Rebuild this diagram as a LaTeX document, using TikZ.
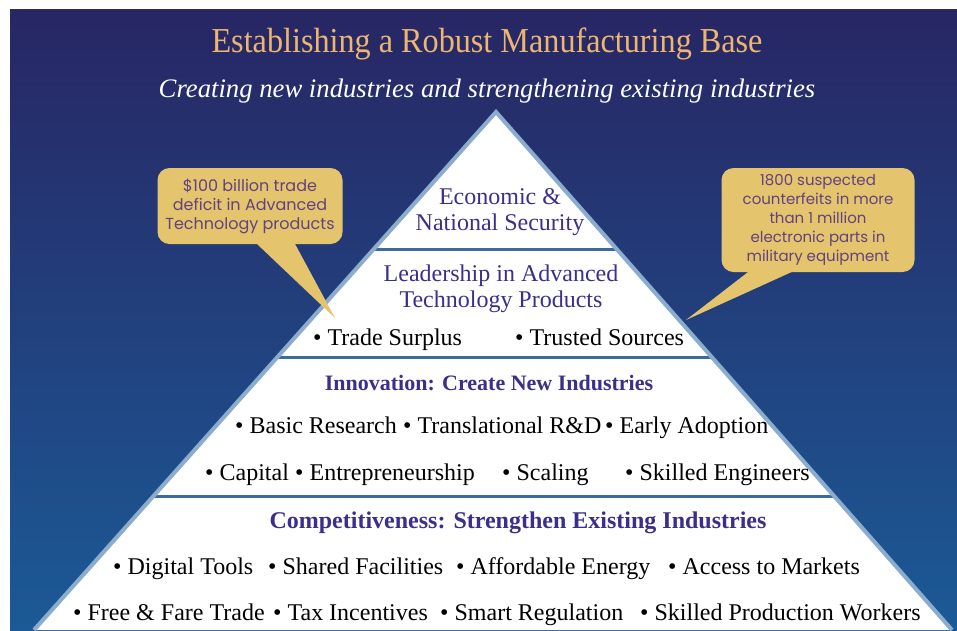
\documentclass[tikz,border=0pt]{standalone}
\usepackage{fontspec}
\setmainfont{Liberation Serif}
\newfontfamily\balloonfont{Poppins}
\usepackage{tikz}
\usetikzlibrary{calc}
\definecolor{navytop}{RGB}{40,38,100}
\definecolor{navymid}{RGB}{37,55,118}
\definecolor{navybot}{RGB}{27,90,150}
\definecolor{titlegold}{RGB}{236,182,112}
\definecolor{tierpurple}{RGB}{58,48,140}
\definecolor{edgeblue}{RGB}{140,172,205}
\definecolor{dividerblue}{RGB}{60,108,158}
\definecolor{balloongold}{RGB}{229,196,110}
\definecolor{balloontext}{RGB}{98,66,126}
\tikzstyle{headline}=[text=titlegold,anchor=base,xscale=0.92,
                      font=\fontsize{35}{38}\selectfont]
\tikzstyle{subline}=[text=white,anchor=base,
                     font=\fontsize{26.7}{30}\selectfont\itshape]
\tikzstyle{tiertext}=[text=tierpurple,align=center,inner sep=0pt,
                      font=\fontsize{24}{26}\selectfont]
\tikzstyle{tierhead}=[text=tierpurple,anchor=base,inner sep=0pt,
                      font=\fontsize{22}{24}\selectfont\bfseries]
\tikzstyle{item}=[anchor=base west,inner sep=0pt,
                  font=\fontsize{24}{26}\selectfont]
\tikzstyle{balloon}=[fill=balloongold,rounded corners=12pt,align=center,
                     text=balloontext,inner sep=0pt,
                     font=\balloonfont\fontsize{15}{19}\selectfont]
\tikzstyle{pyredge}=[draw=edgeblue,line width=4pt]
\tikzstyle{divider}=[draw=dividerblue,line width=3pt]

\begin{document}
\begin{tikzpicture}[x=1pt,y=-1pt]
    \newcommand{\dotitem}[1]{\textbullet\ #1}
    \useasboundingbox (0,0) rectangle (957,630);
    % backdrop
    \shade[top color=navytop,middle color=navymid,bottom color=navybot]
        (10,9) rectangle (957,630);
    \draw[black!80,line width=1pt] (10,9.5) -- (957,9.5);
    \node (title) at (487,52) [headline]{Establishing a Robust Manufacturing Base};
    \node (subtitle) at (487,97) [subline]{Creating new industries and strengthening existing industries};
    % pyramid
    \coordinate (apex) at (496,112);
    \coordinate (baseL) at (34,630);
    \coordinate (baseR) at (952,630);
    \fill[white] (baseL) -- (apex) -- (baseR) -- cycle;
    \foreach \t in {0.2645,0.473,0.743}
      \draw[divider] ($(apex)!\t!(baseL)$) -- ($(apex)!\t!(baseR)$);
    \draw[pyredge] (baseL) -- (apex) -- (baseR);
    % top tiers
    \node (security) at (500,212) [tiertext]{Economic \&\\National Security};
    \node (leader) at (501,288.5) [tiertext]{Leadership in Advanced\\Technology Products};
    \node (surplus) at (313,345) [item]{\dotitem{Trade Surplus}};
    \node (trusted) at (515,345) [item]{\dotitem{Trusted Sources}};
    % innovation tier
    \node (innov) at (489,390) [tierhead]{Innovation: Create New Industries};
    \node (basic) at (235,433) [item]{\dotitem{Basic Research}};
    \node (transl) at (403,433) [item]{\dotitem{Translational R\&D}};
    \node (early) at (605,433) [item]{\dotitem{Early Adoption}};
    \node (capital) at (205,480) [item]{\dotitem{Capital}};
    \node (entre) at (295,480) [item]{\dotitem{Entrepreneurship}};
    \node (scaling) at (502,480) [item]{\dotitem{Scaling}};
    \node (engineers) at (625,480) [item]{\dotitem{Skilled Engineers}};
    % competitiveness tier
    \node (compet) at (518,528) [tierhead,font=\fontsize{24}{26}\selectfont\bfseries]
        {Competitiveness: Strengthen Existing Industries};
    \node (digital) at (113,574) [item]{\dotitem{Digital Tools}};
    \node (shared) at (268,574) [item]{\dotitem{Shared Facilities}};
    \node (energy) at (456,574) [item]{\dotitem{Affordable Energy}};
    \node (markets) at (668,574) [item]{\dotitem{Access to Markets}};
    \node (fairtrade) at (73,620) [item]{\dotitem{Free \& Fare Trade}};
    \node (tax) at (273,620) [item]{\dotitem{Tax Incentives}};
    \node (regul) at (440,620) [item]{\dotitem{Smart Regulation}};
    \node (workers) at (640,620) [item]{\dotitem{Skilled Production Workers}};
    % callouts
    \node (deficit) at (250,206) [balloon,minimum width=185pt,minimum height=76pt,
        font=\balloonfont\fontsize{16}{19}\selectfont]
        {\$100 billion trade\\deficit in Advanced\\Technology products};
    \coordinate (deficittip) at (335,318);
    \fill[balloongold] ([xshift=3pt,yshift=4pt]deficit.south) -- (deficittip)
        -- ([xshift=43pt,yshift=4pt]deficit.south) -- cycle;
    \node (fakes) at (818,220) [balloon,minimum width=193pt,minimum height=104pt]
        {1800 suspected\\counterfeits in more\\than 1 million\\electronic parts in\\military equipment};
    \coordinate (fakestip) at (686,320);
    \fill[balloongold] ([xshift=-65pt,yshift=4pt]fakes.south) -- (fakestip)
        -- ([xshift=-18pt,yshift=4pt]fakes.south) -- cycle;
\end{tikzpicture}
\end{document}
